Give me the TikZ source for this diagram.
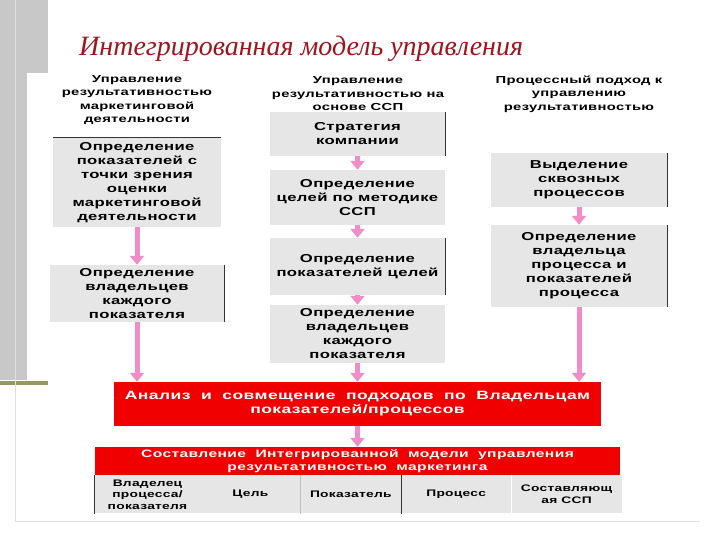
\documentclass[tikz,border=0pt]{standalone}
\usepackage{fontspec}
\setmainfont{Liberation Sans}
\newfontfamily\titlefont{Liberation Serif}
\newfontfamily\boxfont{Liberation Sans Bold}[FakeStretch=1.45,LetterSpace=3]
\newfontfamily\bannerfont{Liberation Sans Bold}[FakeStretch=1.46,LetterSpace=3.5,WordSpace=2]
\usetikzlibrary{arrows.meta,positioning}

\definecolor{panelgray}{RGB}{200,200,200}
\definecolor{barolive}{RGB}{150,150,105}
\definecolor{boxgray}{RGB}{230,230,230}
\definecolor{titlered}{RGB}{160,20,30}
\definecolor{hotred}{RGB}{240,0,0}
\definecolor{flowpink}{RGB}{240,140,200}

\begin{document}
\begin{tikzpicture}[
  x=1pt, y=-1pt,
  every node/.style={inner sep=0pt, align=center, font=\boxfont\fontsize{11.5}{14}\selectfont},
  head/.style={font=\boxfont\fontsize{10.2}{13.5}\selectfont},
  stage/.style={fill=boxgray},
  merge/.style={fill=hotred, text=white, font=\bannerfont\fontsize{12}{14}\selectfont},
  cell/.style={fill=boxgray, minimum height=38pt, font=\boxfont\fontsize{9.5}{11.5}\selectfont},
  flow/.style={draw=flowpink, line width=5pt, -{Triangle[width=14pt,length=9pt]}},
  edge/.style={line width=0.8pt, black!80},
  faint/.style={line width=0.6pt, gray!25}
]
  \useasboundingbox (0,0) rectangle (720,540);

  % slide background
  \fill[panelgray] (0,0) rectangle (48,73);
  \fill[panelgray] (0,73) rectangle (27,380);
  \fill[barolive] (0,381) rectangle (48,385);
  \draw[faint] (15,0) -- (15,521) -- (700,521);

  \node[font=\titlefont\itshape\fontsize{28}{32}\selectfont, text=titlered, anchor=base west]
    (title) at (79,56) {Интегрированная модель управления};

  % column headers
  \node[head] (h1) at (137,100) {Управление\\результативностью\\маркетинговой\\деятельности};
  \node[head] (h2) at (358,94) {Управление\\результативностью на\\основе ССП};
  \node[head] (h3) at (579,94) {Процессный подход к\\управлению\\результативностью};

  % first column
  \node[stage, minimum width=168pt, minimum height=89pt] (a1) at (137,182.5)
    {Определение\\показателей с\\точки зрения\\оценки\\маркетинговой\\деятельности};
  \node[stage, minimum width=174pt, minimum height=57pt] (a2) at (137,293.5)
    {Определение\\владельцев\\каждого\\показателя};

  % second column
  \node[stage, minimum width=175pt, minimum height=44pt] (b1) at (357.5,134) {Стратегия\\компании};
  \node[stage, minimum width=175pt, minimum height=55pt] (b2) at (357.5,197.5)
    {Определение\\целей по методике\\ССП};
  \node[stage, minimum width=175pt, minimum height=57pt] (b3) at (357.5,266.5)
    {Определение\\показателей целей};
  \node[stage, minimum width=175pt, minimum height=58pt] (b4) at (357.5,334)
    {Определение\\владельцев\\каждого\\показателя};

  % third column
  \node[stage, minimum width=176pt, minimum height=54pt] (c1) at (579,180)
    {Выделение\\сквозных\\процессов};
  \node[stage, minimum width=176pt, minimum height=82pt] (c2) at (579,266)
    {Определение\\владельца\\процесса и\\показателей\\процесса};

  % joint part
  \node[merge, minimum width=487pt, minimum height=44pt] (r1) at (357.5,404)
    {Анализ и совмещение подходов по Владельцам\\показателей/процессов};
  \node[merge, minimum width=525pt, minimum height=28pt,
    font=\bannerfont\fontsize{10.7}{13}\selectfont] (r2) at (357.5,461)
    {Составление Интегрированной модели управления\\результативностью маркетинга};

  \node[cell, minimum width=105pt, anchor=north west] (t1) at (r2.south west) {Владелец\\процесса/\\показателя};
  \node[cell, minimum width=100pt, right=0pt of t1] (t2) {Цель};
  \node[cell, minimum width=100pt, right=0pt of t2] (t3) {Показатель};
  \node[cell, minimum width=110pt, right=0pt of t3] (t4) {Процесс};
  \node[cell, minimum width=110pt, right=0pt of t4] (t5) {Составляющ\\ая ССП};

  % box edges
  \draw[edge] (a1.north west) -- (a1.north east);
  \foreach \n in {a2,b1,b3,c1,c2}
    \draw[edge] (\n.north east) -- (\n.south east);
  \draw[edge] (t1.north west) -- (t1.south west);
  \draw[edge] (t4.north west) -- (t4.south west);
  \draw[line width=0.8pt, gray!50] (t3.north west) -- (t3.south west);

  % arrows
  \draw[flow] (a1.south) -- (a2.north);
  \draw[flow] (a2.south) -- (a2.south |- r1.north);
  \draw[flow] (b1.south) -- (b2.north);
  \draw[flow] (b2.south) -- (b3.north);
  \draw[flow] (b3.south) -- (b4.north);
  \draw[flow] (b4.south) -- (r1.north);
  \draw[flow] (c1.south) -- (c2.north);
  \draw[flow] (c2.south) -- (c2.south |- r1.north);
  \draw[flow] (r1.south) -- (r2.north);
\end{tikzpicture}
\end{document}
